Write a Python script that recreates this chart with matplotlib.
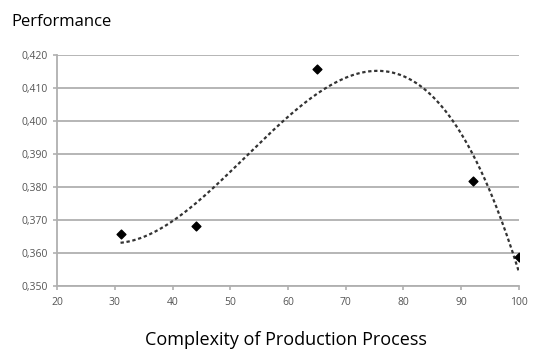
import numpy as np
import matplotlib
matplotlib.use("Agg")
import matplotlib.pyplot as plt
from matplotlib.ticker import FuncFormatter

complexity = [31, 44, 65, 92, 100]
performance = [0.3658, 0.3681, 0.4157, 0.3819, 0.3589]
x_ticks = [20, 30, 40, 50, 60, 70, 80, 90, 100]
y_ticks = [0.350, 0.360, 0.370, 0.380, 0.390, 0.400, 0.410, 0.420]

plt.rcParams['font.family'] = ['Open Sans', 'DejaVu Sans']

fig = plt.figure(figsize=(5.39, 3.5), dpi=100)
ax = fig.add_axes([0.1058, 0.183, 0.857, 0.66])

ax.scatter(complexity, performance, marker='D', s=20, color='black', zorder=4)

coef = np.polyfit(complexity, performance, 3)
xs = np.linspace(min(complexity), max(complexity), 300)
ax.plot(xs, np.polyval(coef, xs), linestyle=(0, (1.5, 1.2)), color='#333333', lw=1.6, zorder=3)

ax.set_xlim(20, 100)
ax.set_ylim(0.350, 0.420)
ax.set_xticks(x_ticks)
ax.set_yticks(y_ticks)
ax.yaxis.set_major_formatter(FuncFormatter(lambda v, p: f"{v:.3f}".replace('.', ',')))
ax.grid(axis='y', color='#b0b0b0', lw=1.3)
ax.set_axisbelow(True)
for s in ['top', 'right']:
    ax.spines[s].set_visible(False)
for s in ['left', 'bottom']:
    ax.spines[s].set_color('#b0b0b0')
    ax.spines[s].set_linewidth(1.3)
ax.tick_params(axis='both', colors='#b0b0b0', labelcolor='#555555', labelsize=7.5, length=3, width=1.2)
ax.tick_params(axis='x', pad=5)

fig.text(0.022, 0.925, "Performance", fontsize=12, color='black')
fig.text(0.53, 0.015, "Complexity of Production Process", fontsize=13, color='black', ha='center')

fig.savefig("out.png", dpi=100)
